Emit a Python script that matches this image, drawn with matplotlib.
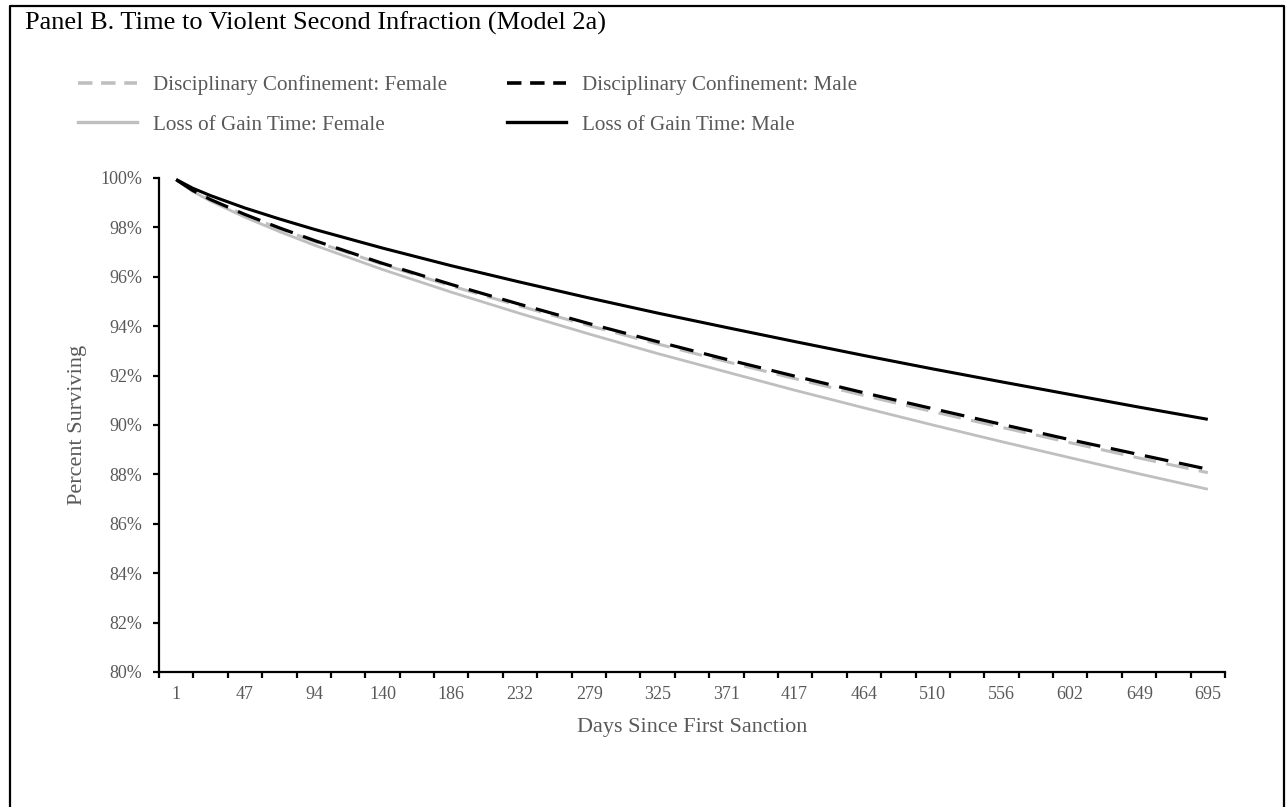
import numpy as np
import matplotlib
matplotlib.use("Agg")
import matplotlib.pyplot as plt
from matplotlib.lines import Line2D
from matplotlib.ticker import FixedLocator, FuncFormatter

plt.rcParams['font.family'] = ['Liberation Serif', 'DejaVu Serif']

# survival estimates (percent) by days since first sanction
days = [1, 12, 24, 47, 70, 94, 140, 186, 232, 279, 325, 371, 417, 464, 510, 556, 602, 649, 695]
dc_female = [99.93, 99.49, 99.12, 98.51, 97.96, 97.43, 96.50, 95.63, 94.82, 94.02, 93.28, 92.57,
             91.88, 91.19, 90.54, 89.91, 89.29, 88.66, 88.07]
dc_male = [99.93, 99.50, 99.13, 98.53, 97.99, 97.47, 96.54, 95.69, 94.89, 94.10, 93.37, 92.66,
           91.98, 91.30, 90.66, 90.03, 89.41, 88.80, 88.21]
lgt_female = [99.93, 99.46, 99.07, 98.42, 97.84, 97.28, 96.29, 95.38, 94.52, 93.68, 92.89, 92.15,
              91.41, 90.69, 90.00, 89.33, 88.68, 88.02, 87.40]
lgt_male = [99.94, 99.59, 99.29, 98.79, 98.35, 97.92, 97.16, 96.45, 95.79, 95.14, 94.53, 93.95,
            93.38, 92.81, 92.27, 91.75, 91.24, 90.72, 90.23]

tick_days = [1, 47, 94, 140, 186, 232, 279, 325, 371, 417, 464, 510, 556, 602, 649, 695]
y_ticks = list(range(80, 101, 2))

GRAY = '#BFBFBF'
TEXT = '#595959'
W, H = 1286, 807

fig = plt.figure(figsize=(W / 100, H / 100), dpi=100)
ax = fig.add_axes([159 / W, 1 - 672 / H, 1066 / W, 494 / H])

dash = (7.5, 3.4)
ax.plot(days, lgt_female, color=GRAY, lw=2.0, solid_capstyle='butt')
ax.plot(days, dc_female, color=GRAY, lw=2.2, dashes=dash)
ax.plot(days, lgt_male, color='black', lw=2.2, solid_capstyle='butt')
ax.plot(days, dc_male, color='black', lw=2.3, dashes=dash)

# category-style axis: label days sit centred between boundary ticks
step = (tick_days[-1] - tick_days[0]) / 30
x0 = tick_days[0] - step / 2
ax.set_xlim(x0, tick_days[-1] + step / 2)
ax.set_ylim(80, 100)

ax.xaxis.set_major_locator(FixedLocator(tick_days))
ax.xaxis.set_minor_locator(FixedLocator(x0 + step * np.arange(32)))
ax.set_yticks(y_ticks)
ax.yaxis.set_major_formatter(FuncFormatter(lambda v, p: '%d%%' % v))

for side in ('top', 'right'):
    ax.spines[side].set_visible(False)
for side in ('left', 'bottom'):
    ax.spines[side].set_linewidth(1.6)
    ax.spines[side].set_color('black')

ax.tick_params(axis='x', which='major', length=0, pad=10, labelsize=13, labelcolor=TEXT)
ax.tick_params(axis='x', which='minor', length=4, width=1.6, direction='out', color='black')
ax.tick_params(axis='y', length=4, width=1.6, direction='out', pad=8, labelsize=13,
               labelcolor=TEXT, color='black')

ax.set_xlabel('Days Since First Sanction', fontsize=16, color=TEXT, labelpad=11)
ax.set_ylabel('Percent Surviving', fontsize=16, color=TEXT, labelpad=10)

fig.text(25 / W, 1 - 23 / H, 'Panel B. Time to Violent Second Infraction (Model 2a)',
         fontsize=19, va='center', ha='left', color='black')

handles = [
    Line2D([], [], color=GRAY, lw=2.6, dashes=(4, 2.4)),
    Line2D([], [], color=GRAY, lw=2.4),
    Line2D([], [], color='black', lw=2.6, dashes=(4, 2.4)),
    Line2D([], [], color='black', lw=2.4),
]
labels = ['Disciplinary Confinement: Female', 'Loss of Gain Time: Female',
          'Disciplinary Confinement: Male', 'Loss of Gain Time: Male']
leg = fig.legend(handles, labels, ncol=2, loc='upper left', bbox_to_anchor=(78 / W, 1 - 75 / H),
                 frameon=False, fontsize=15.2, handlelength=2.8, handletextpad=0.75,
                 columnspacing=2.85, labelspacing=0.95, borderpad=0, borderaxespad=0)
for t in leg.get_texts():
    t.set_color(TEXT)

# outer panel frame; the bottom edge runs off the canvas
fx0, fx1, fy1 = 9.5 / W, 1283.5 / W, 1 - 5.5 / H
fig.add_artist(Line2D([fx0, fx0, fx1, fx1], [0, fy1, fy1, 0], color='black', lw=1.6,
                      transform=fig.transFigure))

fig.savefig('out.png', dpi=100)
